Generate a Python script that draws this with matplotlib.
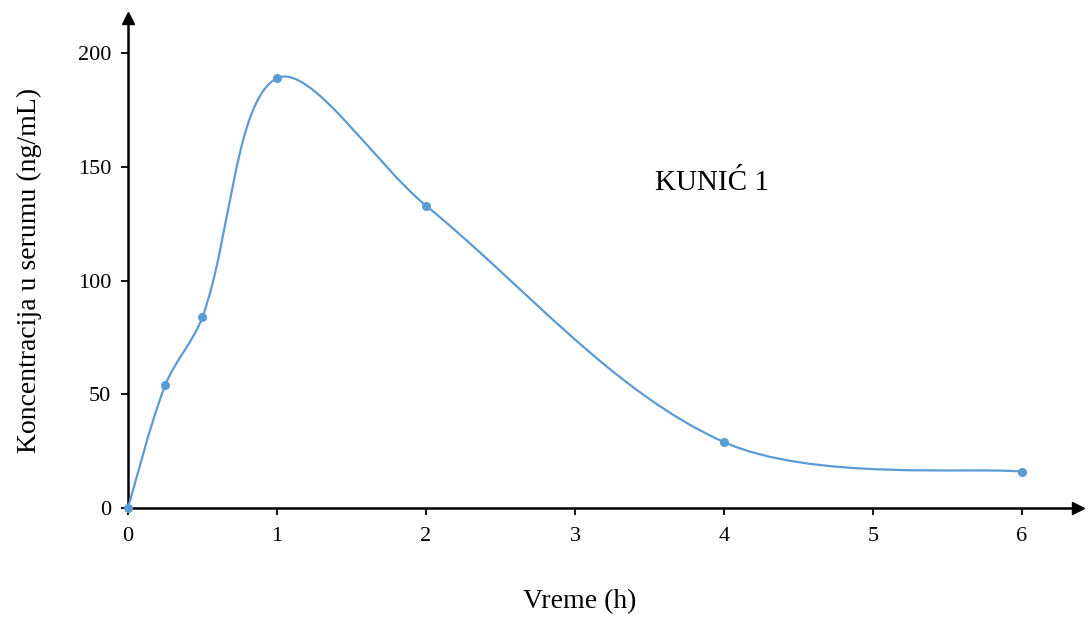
import numpy as np
import matplotlib.pyplot as plt
from matplotlib.path import Path
from matplotlib.patches import PathPatch

# vreme (h) i koncentracija (ng/mL)
vreme = [0, 0.25, 0.5, 1, 2, 4, 6]
koncentracija = [0, 54, 84, 189, 133, 29, 16]
x_ticks = [0, 1, 2, 3, 4, 5, 6]
y_ticks = [0, 50, 100, 150, 200]

BLUE = '#5B9BD5'


def smooth_path(ax, xs, ys):
    # Excel-like smoothed line built in screen space: cubic Bezier segments,
    # tangents scaled by neighbouring segment lengths
    pts = ax.transData.transform(np.column_stack([xs, ys]).astype(float))
    ext = np.vstack([pts[0], pts, pts[-1]])
    verts = [pts[0]]
    codes = [Path.MOVETO]
    for i in range(1, len(ext) - 2):
        p0, p1, p2, p3 = ext[i - 1], ext[i], ext[i + 1], ext[i + 2]
        d01 = np.hypot(*(p1 - p0))
        d12 = np.hypot(*(p2 - p1))
        d23 = np.hypot(*(p3 - p2))
        f1 = d12 / (d01 + d12) / 3 if d01 > 0 else 1 / 6
        f2 = d12 / (d12 + d23) / 3 if d23 > 0 else 1 / 6
        c1 = p1 + (p2 - p0) * f1
        c2 = p2 - (p3 - p1) * f2
        verts += [c1, c2, p2]
        codes += [Path.CURVE4] * 3
    verts = ax.transData.inverted().transform(np.array(verts))
    return Path(verts, codes)


if __name__ == '__main__':
    plt.rcParams['font.family'] = ['Liberation Serif', 'DejaVu Serif']

    fig = plt.figure(figsize=(10.89, 6.2), dpi=100)
    ax = fig.add_axes([0.1175, 0.1806, 0.8724, 0.790])

    ax.set_xlim(0, 6.376)
    ax.set_ylim(0, 215.4)
    ax.set_xticks(x_ticks)
    ax.set_yticks(y_ticks)
    ax.tick_params(direction='out', length=5, width=1.3, labelsize=16, pad=9)
    ax.tick_params(axis='y', pad=7)

    ax.add_patch(PathPatch(smooth_path(ax, vreme, koncentracija), fill=False,
                           edgecolor=BLUE, lw=1.6, zorder=3))
    ax.plot(vreme, koncentracija, 'o', color=BLUE, ms=5.5, zorder=4, clip_on=False)

    for s in ['top', 'right']:
        ax.spines[s].set_visible(False)
    for s in ['left', 'bottom']:
        ax.spines[s].set_linewidth(1.8)

    # arrow heads at ends of axes
    ax.plot(1, 0, '>k', ms=9, transform=ax.get_yaxis_transform(), clip_on=False)
    ax.plot(0, 1, '^k', ms=9, transform=ax.get_xaxis_transform(), clip_on=False)

    ax.set_xlabel('Vreme (h)', fontsize=20)
    ax.xaxis.set_label_coords(0.476, -0.165)
    ax.set_ylabel('Koncentracija u serumu (ng/mL)', fontsize=20)
    ax.yaxis.set_label_coords(-0.0905, 0.486)
    ax.text(3.92, 143, 'KUNIĆ 1', fontsize=21, ha='center', va='center')

    plt.savefig('out.png', dpi=100)
